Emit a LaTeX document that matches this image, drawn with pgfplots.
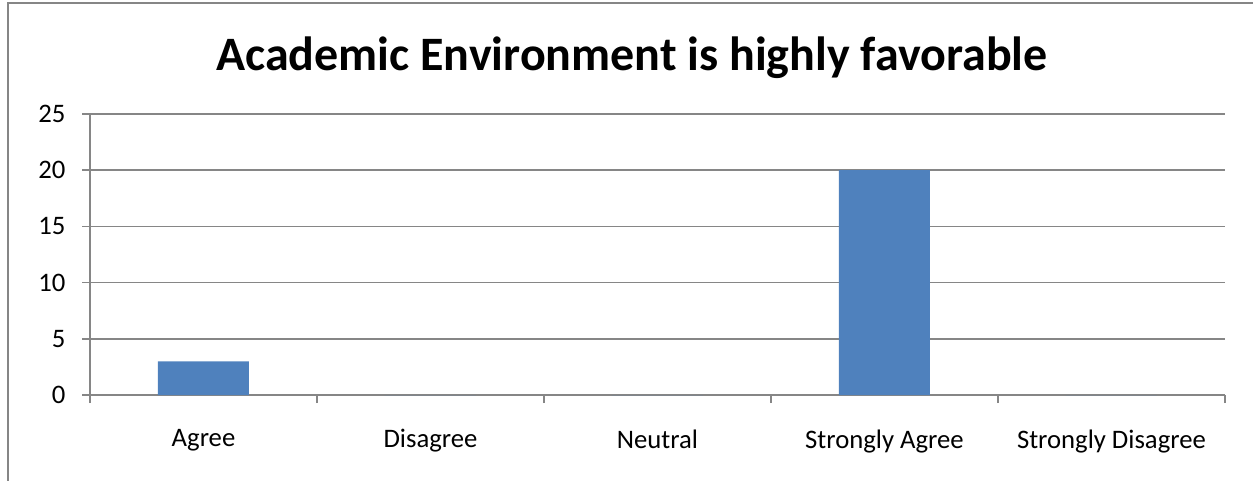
\documentclass[border=0pt]{standalone}
\usepackage{pgfplots}
\pgfplotsset{compat=1.18}
\usepackage{fontspec}
\setmainfont{Carlito}
\definecolor{barblue}{HTML}{4F81BD}
\definecolor{axgray}{HTML}{868686}
\begin{document}
\begin{tikzpicture}[x=1pt,y=1pt]
\useasboundingbox (0,0) rectangle (1253,480);
\draw[axgray, line width=2pt] (8,-10) -- (8,477) -- (1265,477);
\node[font=\fontsize{48}{56}\selectfont\bfseries] at (632,422) {Academic Environment is highly favorable};
\begin{axis}[
  at={(90pt,85pt)}, anchor=south west,
  scale only axis, width=1135pt, height=281pt,
  xmin=-0.5, xmax=4.5, ymin=0, ymax=25,
  axis x line*=bottom, axis y line*=left,
  axis line style={axgray, line width=1.6pt},
  ytick={0,5,...,25},
  xtick={0,1,2,3,4},
  xticklabels={Agree,Disagree,Neutral,Strongly Agree,Strongly Disagree},
  major x tick style={draw=none},
  minor xtick={-0.5,0.5,1.5,2.5,3.5,4.5},
  minor tick length=8pt,
  major tick length=8pt,
  tick align=outside,
  tick style={axgray, line width=1.6pt},
  ymajorgrids, grid style={axgray, line width=1.6pt},
  ticklabel style={font=\fontsize{26.7}{32}\selectfont},
  xticklabel style={yshift=-23pt},
  yticklabel style={xshift=-13pt},
  /pgf/number format/assume math mode=true,
  ybar, bar width=91pt,
  clip=false,
]
\addplot[fill=barblue, draw=none] coordinates {(0,3) (1,0) (2,0) (3,20) (4,0)};
\end{axis}
\end{tikzpicture}
\end{document}
